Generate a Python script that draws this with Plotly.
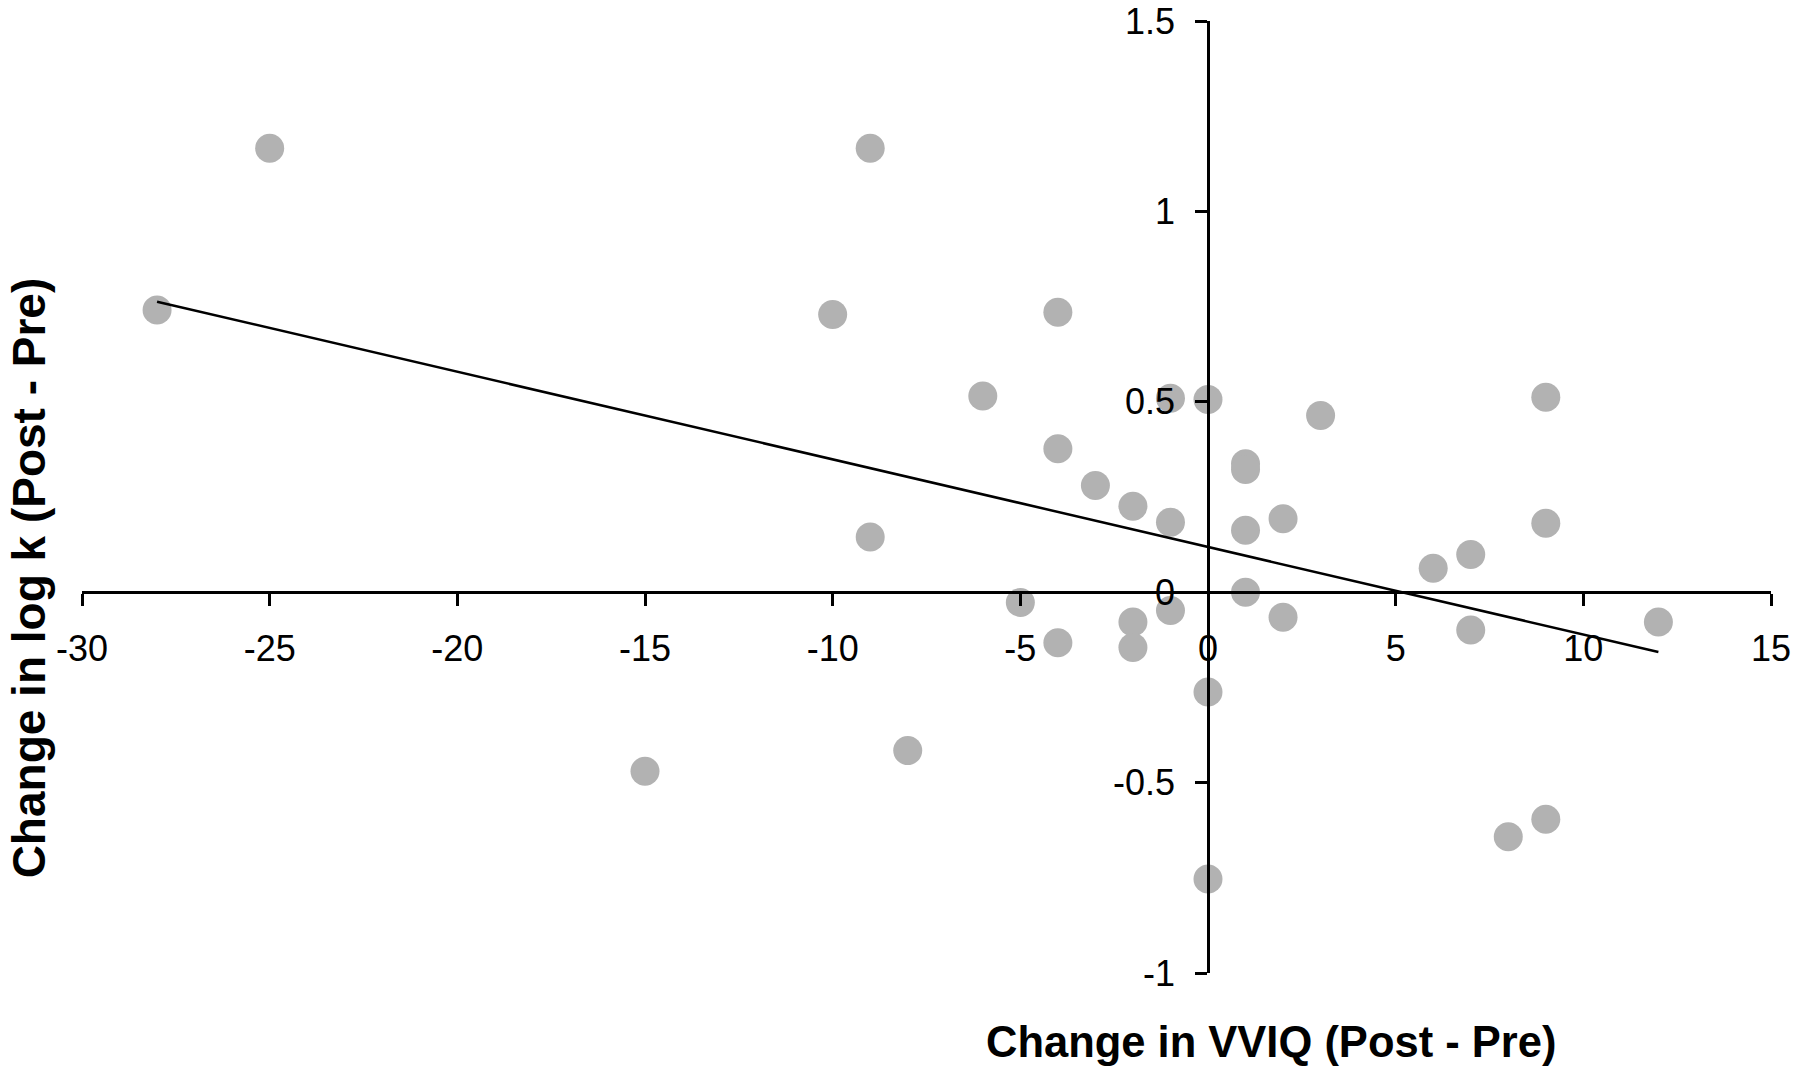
import numpy as np
import plotly.graph_objects as go

# Change in VVIQ (Post - Pre)
vviq_change = [-25, -9, -28, -10, -4, -6, -1, 0, 3, 9,
               -4, -3, -2, -1, 1, 1, 2, 1, -9, 9,
               6, 7, 1, -5, -1, -2, 2, -4, -2, 7,
               12, 0, -15, -8, 8, 9, 0]
# Change in log k (Post - Pre)
logk_change = [1.166, 1.166, 0.741, 0.729, 0.735, 0.515, 0.509, 0.506, 0.464, 0.512,
               0.377, 0.280, 0.226, 0.184, 0.337, 0.322, 0.193, 0.163, 0.145, 0.181,
               0.063, 0.099, 0.0, -0.027, -0.048, -0.078, -0.066, -0.133, -0.145, -0.099,
               -0.078, -0.262, -0.470, -0.416, -0.642, -0.596, -0.753]

x_ticks = [-30, -25, -20, -15, -10, -5, 0, 5, 10, 15]
y_ticks = [-1, -0.5, 0, 0.5, 1, 1.5]
y_tick_text = ["-1", "-0.5", "0", "0.5", "1", "1.5"]

x_title = "Change in VVIQ (Post - Pre)"
y_title = "Change in log k (Post - Pre)"

slope, intercept = np.polyfit(vviq_change, logk_change, 1)
fit_x = [min(vviq_change), max(vviq_change)]
fit_y = [slope * v + intercept for v in fit_x]

fig = go.Figure()
fig.add_trace(go.Scatter(
    x=vviq_change, y=logk_change, mode="markers",
    marker=dict(size=29, color="#b2b2b2", line=dict(width=0)),
    showlegend=False, hoverinfo="x+y"))
fig.add_trace(go.Scatter(
    x=fit_x, y=fit_y, mode="lines",
    line=dict(color="black", width=2.5),
    showlegend=False))

font_family = "Liberation Sans, Arial, sans-serif"
W, H = 1800, 1075
ML, MT = 81.5, 20.7
MR = W - 1771
MB = H - 973.5
PW, PH = W - ML - MR, H - MT - MB


def px_x(page_x):
    return (page_x - ML) / PW


def px_y(page_y):
    return (H - MB - page_y) / PH


fig.update_layout(
    width=W, height=H,
    margin=dict(l=ML, r=MR, t=MT, b=MB, pad=0, autoexpand=False),
    paper_bgcolor="white", plot_bgcolor="white",
    font=dict(family=font_family, color="black"),
    xaxis=dict(range=[-30, 15], tickvals=x_ticks, ticktext=[str(t) for t in x_ticks],
               showgrid=False, zeroline=False, showline=True, linecolor="black", linewidth=2.5,
               ticks="outside", ticklen=12, tickwidth=2.5, tickcolor="black",
               tickfont=dict(size=36, family=font_family), automargin=False,
               ticklabelstandoff=12, ticklabeloverflow="allow",
               anchor="free", position=0.4),
    yaxis=dict(range=[-1, 1.5], tickvals=y_ticks, ticktext=y_tick_text,
               showgrid=False, zeroline=False, showline=True, linecolor="black", linewidth=2.5,
               ticks="outside", ticklen=12, tickwidth=2.5, tickcolor="black",
               tickfont=dict(size=36, family=font_family), automargin=False,
               ticklabelstandoff=13, ticklabeloverflow="allow",
               anchor="free", position=30 / 45),
    annotations=[
        dict(text="<b>" + x_title + "</b>", xref="paper", yref="paper",
             x=px_x(1271), y=px_y(1043),
             xanchor="center", yanchor="middle", showarrow=False,
             font=dict(size=43.5, family=font_family)),
        dict(text="<b>" + y_title + "</b>", xref="paper", yref="paper",
             x=px_x(28), y=px_y(578), textangle=-90,
             xanchor="center", yanchor="middle", showarrow=False,
             font=dict(size=46, family=font_family)),
    ],
)
fig.write_html("out.html",
               config={"displayModeBar": False},
               post_script="document.body.style.margin='0';document.body.style.overflow='hidden';")
